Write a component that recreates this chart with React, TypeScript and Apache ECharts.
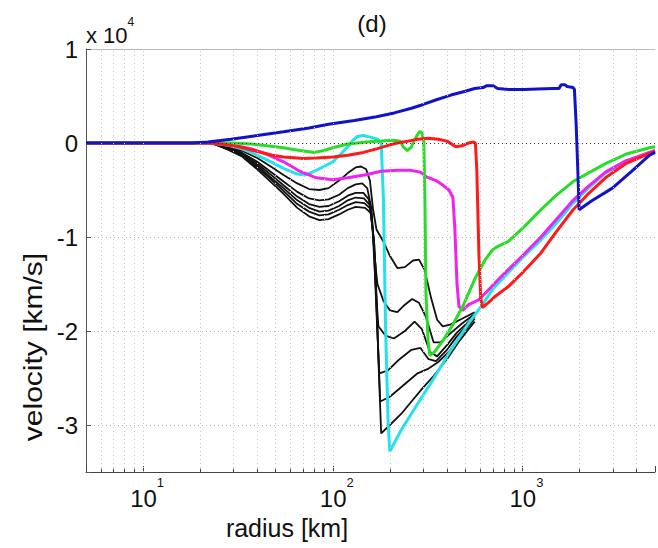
import React, { useEffect, useRef } from 'react';
import * as echarts from 'echarts';

// ---- axis ranges / ticks ----
const X_MIN = 5;
const X_MAX = 5000;
const Y_MIN = -3.5;
const Y_MAX = 1;
const majorX = [10, 100, 1000];
const minorX = [6, 7, 8, 9, 20, 30, 40, 50, 60, 70, 80, 90, 200, 300, 400, 500, 600, 700, 800, 900, 2000, 3000, 4000];

// ---- series: [radius km, velocity (x10^4 km/s)] ----
const blueCurve: [number, number][] = [
  [5, 0], [10, 0], [18, 0], [22, 0.01], [29, 0.04], [40, 0.08], [55, 0.12], [75, 0.16], [95, 0.2], [130, 0.24],
  [170, 0.28], [211, 0.32], [260, 0.37], [300, 0.41], [352, 0.46], [420, 0.51], [500, 0.55], [560, 0.58], [620, 0.59],
  [650, 0.61], [700, 0.61], [740, 0.58], [850, 0.57], [1023, 0.57], [1200, 0.575], [1460, 0.58], [1560, 0.58],
  [1600, 0.62], [1680, 0.62], [1720, 0.6], [1850, 0.59], [1880, 0.57], [1920, 0.2], [1960, -0.3], [1990, -0.71],
  [2300, -0.62], [2980, -0.48], [3775, -0.3], [4680, -0.13], [5000, -0.1],
];
const redCurve: [number, number][] = [
  [5, 0], [15, 0], [22, 0], [26, -0.01], [32, -0.04], [40, -0.09], [48, -0.13], [55, -0.15], [70, -0.165], [82, -0.16],
  [100, -0.15], [120, -0.13], [145, -0.1], [172, -0.06], [200, -0.02], [219, 0], [250, 0.02], [280, 0.04], [320, 0.05],
  [360, 0.04], [400, 0.02], [445, -0.04], [480, -0.03], [520, 0], [550, 0.01], [565, 0.0], [575, -0.3], [590, -1.2],
  [603, -1.65], [615, -1.75], [660, -1.7], [720, -1.63], [840, -1.53], [1000, -1.38], [1252, -1.17], [1500, -0.95],
  [1850, -0.71], [2200, -0.55], [2740, -0.37], [3500, -0.22], [4680, -0.11], [5000, -0.09],
];
const greenCurve: [number, number][] = [
  [5, 0], [30, 0], [37, -0.01], [45, -0.03], [55, -0.05], [67, -0.08], [80, -0.1], [90, -0.08], [100, -0.05],
  [120, -0.01], [150, 0.01], [180, 0.02], [210, 0.03], [227, 0.02], [235, -0.04], [247, -0.08], [260, -0.04],
  [268, 0.02], [278, 0.08], [287, 0.12], [295, 0.11], [302, 0.02], [306, -0.6], [310, -1.6], [318, -2.1], [325, -2.26],
  [345, -2.22], [382, -2.1], [430, -1.93], [484, -1.74], [560, -1.45], [637, -1.24], [700, -1.13], [742, -1.1],
  [840, -1.05], [1023, -0.89], [1252, -0.71], [1500, -0.56], [1850, -0.41], [2740, -0.22], [3500, -0.12],
  [4680, -0.05], [5000, -0.04],
];
const magentaCurve: [number, number][] = [
  [5, 0], [20, 0], [24, -0.005], [28, -0.02], [33, -0.04], [37, -0.06], [45, -0.12], [55, -0.2], [67, -0.3],
  [82, -0.37], [100, -0.39], [120, -0.37], [147, -0.34], [180, -0.3], [220, -0.29], [256, -0.29], [290, -0.31],
  [312, -0.36], [350, -0.4], [382, -0.45], [410, -0.5], [430, -0.58], [440, -0.9], [452, -1.5], [463, -1.74],
  [484, -1.78], [520, -1.72], [586, -1.67], [650, -1.58], [740, -1.46], [840, -1.35], [1000, -1.2], [1252, -1.0],
  [1500, -0.82], [1850, -0.61], [2200, -0.47], [2740, -0.31], [3500, -0.19], [4680, -0.1], [5000, -0.08],
];
const cyanCurve: [number, number][] = [
  [5, 0], [20, 0], [24, -0.005], [28, -0.025], [33, -0.06], [37, -0.1], [45, -0.18], [55, -0.27], [65, -0.33],
  [72, -0.34], [80, -0.3], [90, -0.25], [100, -0.2], [110, -0.12], [120, -0.04], [128, 0.03], [135, 0.07],
  [145, 0.08], [160, 0.06], [172, 0.04], [180, 0.0], [185, -0.6], [190, -2.0], [196, -3.0], [200, -3.28],
  [230, -3.05], [277, -2.79], [330, -2.55], [420, -2.2], [520, -1.92], [615, -1.72], [700, -1.55], [840, -1.38],
  [1000, -1.22], [1252, -1.03], [1500, -0.86], [1850, -0.64], [2200, -0.49], [2740, -0.32], [3500, -0.2],
  [4680, -0.1], [5000, -0.08],
];
const blackA: [number, number][] = [
  [5, 0], [20, 0], [24, -0.01], [28, -0.04], [33, -0.08], [40, -0.16], [48, -0.26], [55, -0.34], [65, -0.43],
  [75, -0.49], [85, -0.5], [95, -0.48], [108, -0.4], [120, -0.32], [132, -0.26], [141, -0.25], [150, -0.28],
  [157, -0.4], [163, -0.7], [170, -0.92], [185, -1.05], [200, -1.2], [219, -1.33], [240, -1.32], [265, -1.25],
  [285, -1.24], [305, -1.35], [330, -1.65], [355, -1.88], [380, -1.95], [420, -1.93], [480, -1.87], [560, -1.8],
];
const blackB: [number, number][] = [
  [5, 0], [20, 0], [24, -0.01], [28, -0.05], [33, -0.1], [40, -0.2], [48, -0.32], [55, -0.41], [65, -0.52],
  [75, -0.59], [85, -0.61], [95, -0.6], [108, -0.55], [120, -0.48], [132, -0.44], [143, -0.43], [152, -0.48],
  [160, -0.7], [166, -1.2], [172, -1.5], [185, -1.68], [200, -1.78], [219, -1.8], [240, -1.72], [262, -1.66],
  [285, -1.7], [310, -1.85], [340, -2.12], [370, -2.12], [420, -2.02], [480, -1.92], [560, -1.82],
];
const blackC: [number, number][] = [
  [5, 0], [20, 0], [24, -0.012], [28, -0.055], [33, -0.11], [40, -0.22], [48, -0.35], [55, -0.45], [65, -0.57],
  [75, -0.65], [85, -0.68], [95, -0.67], [108, -0.62], [120, -0.56], [132, -0.53], [145, -0.53], [155, -0.6],
  [162, -0.9], [168, -1.5], [174, -1.95], [190, -2.05], [210, -2.08], [240, -2.0], [270, -1.9], [295, -1.98],
  [325, -2.22], [355, -2.27], [400, -2.15], [450, -2.02], [520, -1.9], [560, -1.84],
];
const blackD: [number, number][] = [
  [5, 0], [20, 0], [24, -0.013], [28, -0.06], [33, -0.12], [40, -0.24], [48, -0.38], [55, -0.48], [65, -0.61],
  [75, -0.69], [85, -0.73], [95, -0.72], [108, -0.67], [120, -0.61], [132, -0.58], [146, -0.59], [157, -0.66],
  [164, -1.0], [170, -1.8], [176, -2.45], [195, -2.42], [225, -2.3], [260, -2.2], [290, -2.18], [320, -2.3],
  [350, -2.32], [400, -2.2], [450, -2.06], [520, -1.92], [560, -1.85],
];
const blackE: [number, number][] = [
  [5, 0], [20, 0], [24, -0.014], [28, -0.065], [33, -0.13], [40, -0.26], [48, -0.4], [55, -0.51], [65, -0.65],
  [75, -0.73], [85, -0.77], [95, -0.76], [108, -0.71], [120, -0.66], [132, -0.63], [147, -0.64], [158, -0.7],
  [166, -1.1], [172, -2.0], [178, -2.75], [200, -2.7], [235, -2.58], [280, -2.45], [320, -2.4], [360, -2.33],
  [410, -2.22], [460, -2.08], [520, -1.95], [560, -1.87],
];
const blackF: [number, number][] = [
  [5, 0], [20, 0], [24, -0.015], [28, -0.07], [33, -0.14], [40, -0.28], [48, -0.43], [55, -0.54], [65, -0.69],
  [75, -0.78], [85, -0.82], [95, -0.81], [108, -0.76], [120, -0.71], [132, -0.68], [148, -0.69], [160, -0.75],
  [168, -1.3], [174, -2.3], [180, -3.09], [200, -3.0], [230, -2.88], [260, -2.75], [300, -2.6], [340, -2.48],
  [400, -2.3], [460, -2.12], [520, -1.98], [560, -1.9],
];

const FONT = 'Liberation Sans, Arial, Helvetica, sans-serif';

export default function App() {
  const ref = useRef<HTMLDivElement>(null);

  useEffect(() => {
    if (!ref.current) return;
    const chart = echarts.init(ref.current, null, { renderer: 'svg' });

    const blacks = [blackA, blackB, blackC, blackD, blackE, blackF];
    const colored: { data: [number, number][]; color: string }[] = [
      { data: cyanCurve, color: '#22e2ea' },
      { data: magentaCurve, color: '#f022f0' },
      { data: greenCurve, color: '#2adc2a' },
      { data: redCurve, color: '#ff1a1a' },
      { data: blueCurve, color: '#1212c8' },
    ];

    const gridSeries: any = {
      type: 'line',
      data: [],
      silent: true,
      markLine: {
        silent: true,
        symbol: ['none', 'none'],
        label: { show: false },
        animation: false,
        data: [
          ...[...minorX, ...majorX].map((v) => ({
            xAxis: v,
            lineStyle: { type: [1, 3], color: '#c8c8c8', width: 1 },
          })),
          { yAxis: 0, lineStyle: { type: [1, 3], color: '#333', width: 1 } },
          ...minorX.map((v) => [
            { coord: [v, Y_MIN], lineStyle: { type: 'solid', color: '#444', width: 1 } },
            { coord: [v, Y_MIN + 0.035] },
          ]),
        ],
      },
    };

    const option: any = {
      animation: false,
      backgroundColor: '#fff',
      grid: { left: 86, top: 49, right: -5, bottom: 76, containLabel: false },
      xAxis: [
        {
          type: 'log',
          logBase: 10,
          min: X_MIN,
          max: X_MAX,
          position: 'bottom',
          axisLine: { show: true, onZero: false, lineStyle: { color: '#444', width: 1 } },
          axisTick: { show: true, inside: true, length: 6, lineStyle: { color: '#444' } },
          splitLine: { show: false },
          minorTick: { show: false },
          axisLabel: {
            margin: 4,
            color: '#111',
            fontFamily: FONT,
            formatter: (v: number) => {
              const e = Math.round(Math.log10(v));
              return Math.abs(v - Math.pow(10, e)) < 1e-6 * v ? `{b|10}{s|${e}}` : '';
            },
            rich: {
              b: { fontSize: 24, fontFamily: FONT, color: '#111', lineHeight: 34, verticalAlign: 'bottom', padding: [0, 0, 0, 8] },
              s: { fontSize: 13, fontFamily: FONT, color: '#111', lineHeight: 14, verticalAlign: 'top' },
            },
          },
        },
        {
          type: 'log',
          logBase: 10,
          min: X_MIN,
          max: X_MAX,
          position: 'top',
          axisLine: { show: true, onZero: false, lineStyle: { color: '#bbb', width: 1 } },
          axisTick: { show: false },
          axisLabel: { show: false },
          splitLine: { show: false },
        },
      ],
      yAxis: {
        type: 'value',
        min: Y_MIN,
        max: Y_MAX,
        axisLine: { show: true, onZero: false, lineStyle: { color: '#555', width: 1 } },
        axisTick: { show: true, inside: true, length: 5, lineStyle: { color: '#555' } },
        splitLine: { show: true, lineStyle: { type: [1, 3], color: '#b5b5b5', width: 1 } },
        axisLabel: {
          margin: 8,
          fontSize: 24,
          fontFamily: FONT,
          color: '#111',
          formatter: (v: number) => (Math.abs(v - Math.round(v)) < 1e-9 ? String(Math.round(v)) : ''),
        },
      },
      graphic: [
        {
          type: 'text',
          x: 86,
          y: 16,
          silent: true,
          style: {
            text: '{a|x 10}{b|4}',
            rich: {
              a: { fontSize: 22, fontFamily: FONT, fill: '#111', lineHeight: 30, verticalAlign: 'bottom' },
              b: { fontSize: 12, fontFamily: FONT, fill: '#111', lineHeight: 12, verticalAlign: 'top' },
            },
          },
        },
        {
          type: 'text',
          x: 372,
          y: 23,
          silent: true,
          style: { text: '(d)', fontSize: 24, fontFamily: FONT, fill: '#111', align: 'center', verticalAlign: 'middle' },
        },
        {
          type: 'text',
          x: 287,
          y: 528,
          silent: true,
          style: { text: 'radius [km]', fontSize: 25, fontFamily: FONT, fill: '#111', align: 'center', verticalAlign: 'middle' },
        },
        {
          type: 'text',
          x: 33,
          y: 347,
          rotation: Math.PI / 2,
          scaleX: 1.2,
          silent: true,
          style: { text: 'velocity [km/s]', fontSize: 25, fontFamily: FONT, fill: '#111', align: 'center', verticalAlign: 'middle' },
        },
      ],
      series: [
        gridSeries,
        ...blacks.map((d) => ({
          type: 'line',
          data: d,
          showSymbol: false,
          symbol: 'none',
          silent: true,
          lineStyle: { color: '#111', width: 1.8 },
        })),
        ...colored.map((c) => ({
          type: 'line',
          data: c.data,
          showSymbol: false,
          symbol: 'none',
          silent: true,
          lineStyle: { color: c.color, width: 3 },
        })),
      ],
    };

    chart.setOption(option);
    return () => chart.dispose();
  }, []);

  return (
    <div
      ref={ref}
      style={{ position: 'absolute', left: 0, top: 0, width: 658, height: 548, background: '#fff' }}
    />
  );
}
